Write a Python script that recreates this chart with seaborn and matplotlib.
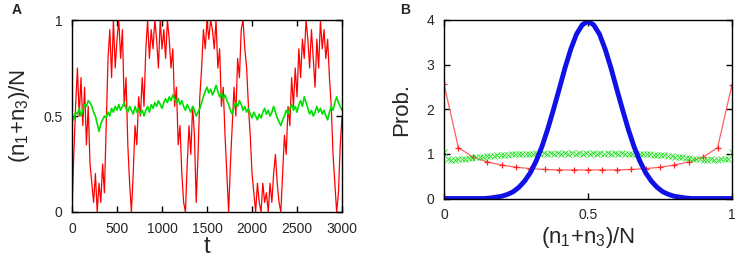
import numpy as np
import pandas as pd
import matplotlib
matplotlib.use('Agg')
import matplotlib.pyplot as plt
import seaborn as sns

# panel A: trajectories, sampled every 20 time steps
dt = 20
red_traj = [0.00, 0.30, 0.55, 0.75, 0.50, 0.70, 0.45, 0.65, 0.35, 0.55,
            0.25, 0.15, 0.05, 0.20, 0.00, 0.15, 0.05, 0.25, 0.10, 0.45,
            0.80, 0.95, 0.70, 1.00, 0.75, 0.90, 1.00, 0.80, 0.95, 0.55,
            0.70, 0.35, 0.15, 0.00, 0.20, 0.45, 0.35, 0.60, 0.50, 0.70,
            0.55, 0.85, 1.00, 0.80, 0.95, 0.85, 1.00, 0.90, 0.75, 1.00,
            0.85, 0.95, 0.80, 1.00, 0.90, 0.75, 0.85, 0.55, 0.65, 0.35,
            0.45, 0.20, 0.05, 0.00, 0.25, 0.45, 0.30, 0.55, 0.40, 0.05,
            0.30, 0.60, 0.75, 0.95, 0.85, 1.00, 0.90, 1.00, 0.95, 0.85,
            1.00, 0.75, 0.85, 0.55, 0.65, 0.40, 0.20, 0.00, 0.25, 0.45,
            0.65, 0.50, 0.80, 0.70, 0.95, 1.00, 0.85, 0.75, 0.55, 0.40,
            0.20, 0.10, 0.00, 0.15, 0.05, 0.00, 0.15, 0.05, 0.10, 0.00,
            0.15, 0.05, 0.20, 0.30, 0.15, 0.05, 0.00, 0.20, 0.40, 0.30,
            0.55, 0.45, 0.70, 0.55, 0.75, 0.60, 0.85, 0.70, 0.90, 0.80,
            1.00, 0.90, 0.75, 0.95, 0.80, 0.65, 0.90, 0.75, 1.00, 0.85,
            0.95, 0.80, 0.90, 0.70, 0.55, 0.30, 0.15, 0.00, 0.10, 0.35,
            0.50]
green_traj = [0.50, 0.48, 0.52, 0.51, 0.54, 0.50,
              0.53, 0.56, 0.55, 0.58, 0.57,
              0.55, 0.52, 0.50, 0.46, 0.42, 0.46,
              0.48, 0.50, 0.49, 0.52, 0.50, 0.54, 0.52, 0.55, 0.53,
              0.56, 0.53, 0.55, 0.57, 0.54, 0.52, 0.55, 0.53, 0.51, 0.55, 0.52, 0.54, 0.51, 0.53, 0.50,
              0.53, 0.55, 0.52, 0.56, 0.54, 0.57, 0.55, 0.58, 0.56, 0.54, 0.57, 0.59, 0.57, 0.60, 0.58,
              0.61, 0.59, 0.57, 0.59, 0.56, 0.58, 0.55, 0.53, 0.56, 0.54, 0.52, 0.55, 0.53, 0.50, 0.52,
              0.54, 0.57, 0.60, 0.63, 0.65, 0.62, 0.64, 0.61, 0.63, 0.66, 0.63, 0.60, 0.62, 0.59, 0.61,
              0.58, 0.56, 0.53, 0.51, 0.55, 0.57, 0.55, 0.58, 0.56, 0.53, 0.55, 0.52, 0.54, 0.51, 0.49,
              0.52, 0.50, 0.48, 0.51, 0.49, 0.52, 0.54, 0.51, 0.53, 0.50, 0.52, 0.55, 0.52, 0.49, 0.47,
              0.45, 0.48, 0.50, 0.53, 0.51, 0.54, 0.56, 0.53, 0.55, 0.52, 0.56, 0.58, 0.55, 0.60, 0.57,
              0.54, 0.51, 0.53, 0.50, 0.52, 0.55, 0.52, 0.54, 0.51, 0.53, 0.50, 0.48, 0.52, 0.55, 0.53,
              0.57, 0.60, 0.57, 0.55, 0.53]

# panel B: distributions
red_dist = [2.57, 1.14, 0.93, 0.82, 0.75, 0.70, 0.67, 0.65, 0.64, 0.64, 0.64,
            0.64, 0.64, 0.65, 0.67, 0.70, 0.75, 0.82, 0.93, 1.14, 2.55]
green_dist = [1.04,
              0.88, 0.87, 0.87, 0.88, 0.88, 0.89, 0.90, 0.91,
              0.92, 0.93, 0.94, 0.95, 0.95, 0.96, 0.97, 0.97,
              0.98, 0.98, 0.99, 0.99, 0.99, 1.00, 1.00, 1.00,
              1.00, 1.01, 1.00, 1.01, 1.00, 1.01, 1.00, 1.01,
              1.00, 1.01, 1.00, 1.01, 1.00, 1.01, 1.00, 1.01,
              1.00, 1.01, 1.00, 1.01, 1.00, 1.01, 1.00, 1.01,
              1.00, 1.01, 1.00, 1.00, 1.00, 1.00, 0.99, 0.99,
              0.99, 0.99, 0.98, 0.98, 0.97, 0.97, 0.96, 0.95,
              0.94, 0.93, 0.92, 0.91, 0.90, 0.89, 0.88, 0.88,
              0.87, 0.87, 0.88, 0.87, 0.87, 0.88, 0.88, 0.89,
              1.04]
blue_dist = [0.00, 0.00, 0.00, 0.00, 0.00, 0.00, 0.00, 0.00, 0.01, 0.03,
             0.05, 0.09, 0.15, 0.25, 0.39, 0.58, 0.84, 1.16, 1.55, 1.99,
             2.45, 2.92, 3.34, 3.68, 3.89, 3.97, 3.89, 3.68, 3.34, 2.92,
             2.45, 1.99, 1.55, 1.16, 0.84, 0.58, 0.39, 0.25, 0.15, 0.09,
             0.05, 0.03, 0.01, 0.00, 0.00, 0.00, 0.00, 0.00, 0.00, 0.00,
             0.00]

df_red = pd.DataFrame({'t': dt * np.arange(len(red_traj)), 'x': red_traj})
df_green = pd.DataFrame({'t': dt * np.arange(len(green_traj)), 'x': green_traj})
df_rd = pd.DataFrame({'x': np.linspace(0, 1, len(red_dist)), 'p': red_dist})
df_gd = pd.DataFrame({'x': np.linspace(0, 1, len(green_dist)), 'p': green_dist})
df_bd = pd.DataFrame({'x': np.linspace(0, 1, len(blue_dist)), 'p': blue_dist})

sns.set_style('ticks')
plt.rcParams['font.family'] = ['Liberation Sans', 'DejaVu Sans']
plt.rcParams['mathtext.fontset'] = 'custom'
plt.rcParams['mathtext.rm'] = 'Liberation Sans'
plt.rcParams['mathtext.it'] = 'Liberation Sans'

fig = plt.figure(figsize=(7.37, 2.58), dpi=100)
axA = fig.add_axes([0.0977, 0.1783, 0.3664, 0.744])
axB = fig.add_axes([0.6024, 0.2306, 0.3908, 0.692])

sns.lineplot(data=df_red, x='t', y='x', ax=axA, color='#ff0000', lw=0.9)
sns.lineplot(data=df_green, x='t', y='x', ax=axA, color='#00e000', lw=1.2)
axA.set_xlim(0, 3000)
axA.set_ylim(0, 1)
axA.set_xticks([0, 500, 1000, 1500, 2000, 2500, 3000])
axA.set_yticks([0, 0.5, 1])
axA.set_yticklabels(['0', '0.5', '1'])
axA.set_xlabel('t', fontsize=17, labelpad=0)
axA.set_ylabel('(n$_1$+n$_3$)/N', fontsize=16, labelpad=8)

sns.lineplot(data=df_rd, x='x', y='p', ax=axB, color='#ff6060', lw=0.9,
             marker='+', markersize=5, markeredgecolor='#ff2020', markeredgewidth=0.9)
sns.lineplot(data=df_gd, x='x', y='p', ax=axB, color='#00e000', lw=0,
             marker='x', markersize=4, markeredgecolor='#20e020', markeredgewidth=0.6)
sns.lineplot(data=df_bd, x='x', y='p', ax=axB, color='#1010e8', lw=3.5)
axB.set_xlim(0, 1)
axB.set_ylim(0, 4)
axB.set_xticks([0, 0.5, 1])
axB.set_xticklabels(['0', '0.5', '1'])
axB.set_yticks([0, 1, 2, 3, 4])
axB.set_xlabel('(n$_1$+n$_3$)/N', fontsize=16, labelpad=2)
axB.set_ylabel('Prob.', fontsize=16, labelpad=10)

for ax in (axA, axB):
    ax.tick_params(direction='in', top=True, right=True, length=4, width=1,
                   labelsize=10, pad=7, color='black')
    for s in ax.spines.values():
        s.set_linewidth(1.0)
        s.set_color('black')

fig.text(12 / 737, 1 - 10 / 258, 'A', fontsize=10, fontweight='bold', va='center')
fig.text(400 / 737, 1 - 10 / 258, 'B', fontsize=10, fontweight='bold', va='center')

fig.savefig('out.png', dpi=100)
